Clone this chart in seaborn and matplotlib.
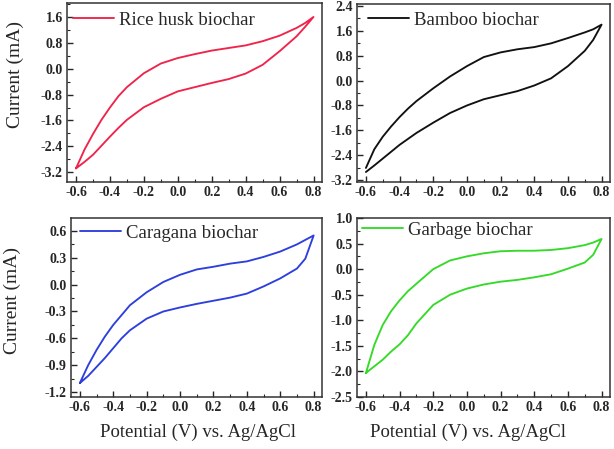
import matplotlib
matplotlib.use("Agg")
import matplotlib.pyplot as plt
import numpy as np
import pandas as pd
import seaborn as sns
from matplotlib.ticker import MultipleLocator, FormatStrFormatter

# potential grid of the readings (V vs. Ag/AgCl), forward scan
potential = [-0.6, -0.55, -0.5, -0.45, -0.4, -0.35, -0.3, -0.2, -0.1, 0.0,
             0.1, 0.2, 0.3, 0.4, 0.5, 0.6, 0.7, 0.75, 0.8]

# currents (mA): anodic branch (forward scan) and cathodic branch, same grid
rice_anodic = [-3.08, -2.5, -2.02, -1.58, -1.2, -0.85, -0.57, -0.14, 0.16, 0.33,
               0.45, 0.56, 0.64, 0.72, 0.85, 1.02, 1.26, 1.41, 1.6]
rice_cathodic = [-3.08, -2.88, -2.66, -2.38, -2.1, -1.83, -1.58, -1.19, -0.93, -0.7,
                 -0.57, -0.44, -0.32, -0.15, 0.12, 0.54, 1.0, 1.29, 1.6]

bamboo_anodic = [-2.8, -2.2, -1.8, -1.47, -1.17, -0.9, -0.66, -0.25, 0.13, 0.46,
                 0.75, 0.9, 1.0, 1.07, 1.19, 1.36, 1.54, 1.64, 1.79]
bamboo_cathodic = [-2.93, -2.72, -2.5, -2.28, -2.06, -1.87, -1.68, -1.35, -1.04, -0.8,
                   -0.6, -0.47, -0.34, -0.16, 0.07, 0.46, 0.95, 1.3, 1.79]

caragana_anodic = [-1.1, -0.9, -0.73, -0.58, -0.45, -0.34, -0.23, -0.085, 0.03, 0.11,
                   0.17, 0.2, 0.235, 0.26, 0.31, 0.37, 0.45, 0.5, 0.55]
caragana_cathodic = [-1.1, -1.02, -0.92, -0.82, -0.71, -0.6, -0.51, -0.38, -0.3, -0.255,
                     -0.215, -0.18, -0.145, -0.1, -0.02, 0.07, 0.18, 0.29, 0.55]

garbage_anodic = [-2.03, -1.48, -1.09, -0.82, -0.61, -0.43, -0.285, 0.0, 0.17, 0.25,
                  0.31, 0.35, 0.36, 0.36, 0.375, 0.41, 0.47, 0.52, 0.59]
garbage_cathodic = [-2.03, -1.9, -1.77, -1.61, -1.47, -1.29, -1.06, -0.7, -0.5, -0.38,
                    -0.3, -0.245, -0.21, -0.16, -0.1, 0.01, 0.13, 0.28, 0.59]

labels = ["Rice husk biochar", "Bamboo biochar", "Caragana biochar", "Garbage biochar"]
colors = ["#f0244a", "#111111", "#2d3fdc", "#35da28"]

sns.set_theme(style="ticks")
plt.rcParams["font.family"] = ["Liberation Serif", "DejaVu Serif"]
plt.rcParams["axes.unicode_minus"] = False
plt.rcParams["xtick.direction"] = "in"
plt.rcParams["ytick.direction"] = "in"

W, H = 614, 449
fig = plt.figure(figsize=(W / 100, H / 100), dpi=100)

# axes boxes in pixels: left, top, right, bottom
boxes = [(67, 3, 322, 182), (357, 4, 610, 182),
         (71, 218, 322, 397), (357, 218, 610, 397)]
ylims = [(-3.5, 2.03), (-3.25, 2.45), (-1.256, 0.745), (-2.5, 1.0)]
ysteps = [0.8, 0.8, 0.3, 0.5]
yticks = [[-3.2, -2.4, -1.6, -0.8, 0.0, 0.8, 1.6],
          [-3.2, -2.4, -1.6, -0.8, 0.0, 0.8, 1.6, 2.4],
          [-1.2, -0.9, -0.6, -0.3, 0.0, 0.3, 0.6],
          [-2.5, -2.0, -1.5, -1.0, -0.5, 0.0, 0.5, 1.0]]
xticks = [-0.6, -0.4, -0.2, 0.0, 0.2, 0.4, 0.6, 0.8]
legend_pos = [(6, 17), (11, 16), (9, 15), (5, 12)]
data = [(rice_anodic, rice_cathodic), (bamboo_anodic, bamboo_cathodic),
        (caragana_anodic, caragana_cathodic), (garbage_anodic, garbage_cathodic)]

for i, ((l, t, r, b), (an, ca)) in enumerate(zip(boxes, data)):
    w, h = r - l, b - t
    ax = fig.add_axes([l / W, 1 - b / H, w / W, h / H])
    # closed loop: forward scan then reverse scan
    df = pd.DataFrame({
        "E": potential + potential[::-1],
        "I": an + ca[::-1],
    })
    sns.lineplot(data=df, x="E", y="I", sort=False, estimator=None,
                 color=colors[i], lw=1.35, ax=ax, label=labels[i])
    ax.set_xlim(-0.653, 0.85)
    ax.set_ylim(*ylims[i])
    ax.set_xticks(xticks)
    ax.set_yticks(yticks[i])
    ax.xaxis.set_minor_locator(MultipleLocator(0.1))
    ax.yaxis.set_minor_locator(MultipleLocator(ysteps[i] / 2))
    ax.xaxis.set_major_formatter(FormatStrFormatter("%.1f"))
    ax.yaxis.set_major_formatter(FormatStrFormatter("%.1f"))
    ax.tick_params(which="major", length=4, width=1.0, labelsize=10, pad=3)
    ax.tick_params(which="minor", length=2, width=0.8)
    for lab in ax.get_xticklabels() + ax.get_yticklabels():
        lab.set_fontweight("bold")
    for sp in ax.spines.values():
        sp.set_linewidth(1.1)
        sp.set_color("#333333")
    ax.set_xlabel("")
    ax.set_ylabel("")
    if i == 0:
        ax.set_ylabel("Current (mA)", fontsize=14)
        ax.yaxis.set_label_coords((24 - l) / w, (b - 75) / h)
    if i == 2:
        ax.set_ylabel("Current (mA)", fontsize=14)
        ax.yaxis.set_label_coords((21 - l) / w, (b - 300) / h)
    if i >= 2:
        ax.set_xlabel("Potential (V) vs. Ag/AgCl", fontsize=13.5)
        cx = 198 if i == 2 else 468
        ax.xaxis.set_label_coords((cx - l) / w, -(424 - b) / h)
    dx, dy = legend_pos[i]
    ax.legend(loc="center left", bbox_to_anchor=(dx / w, 1 - dy / h),
              frameon=False, fontsize=13.5, handlelength=2.2,
              handletextpad=0.25, borderaxespad=0, borderpad=0)

fig.savefig("out.png", dpi=100)
